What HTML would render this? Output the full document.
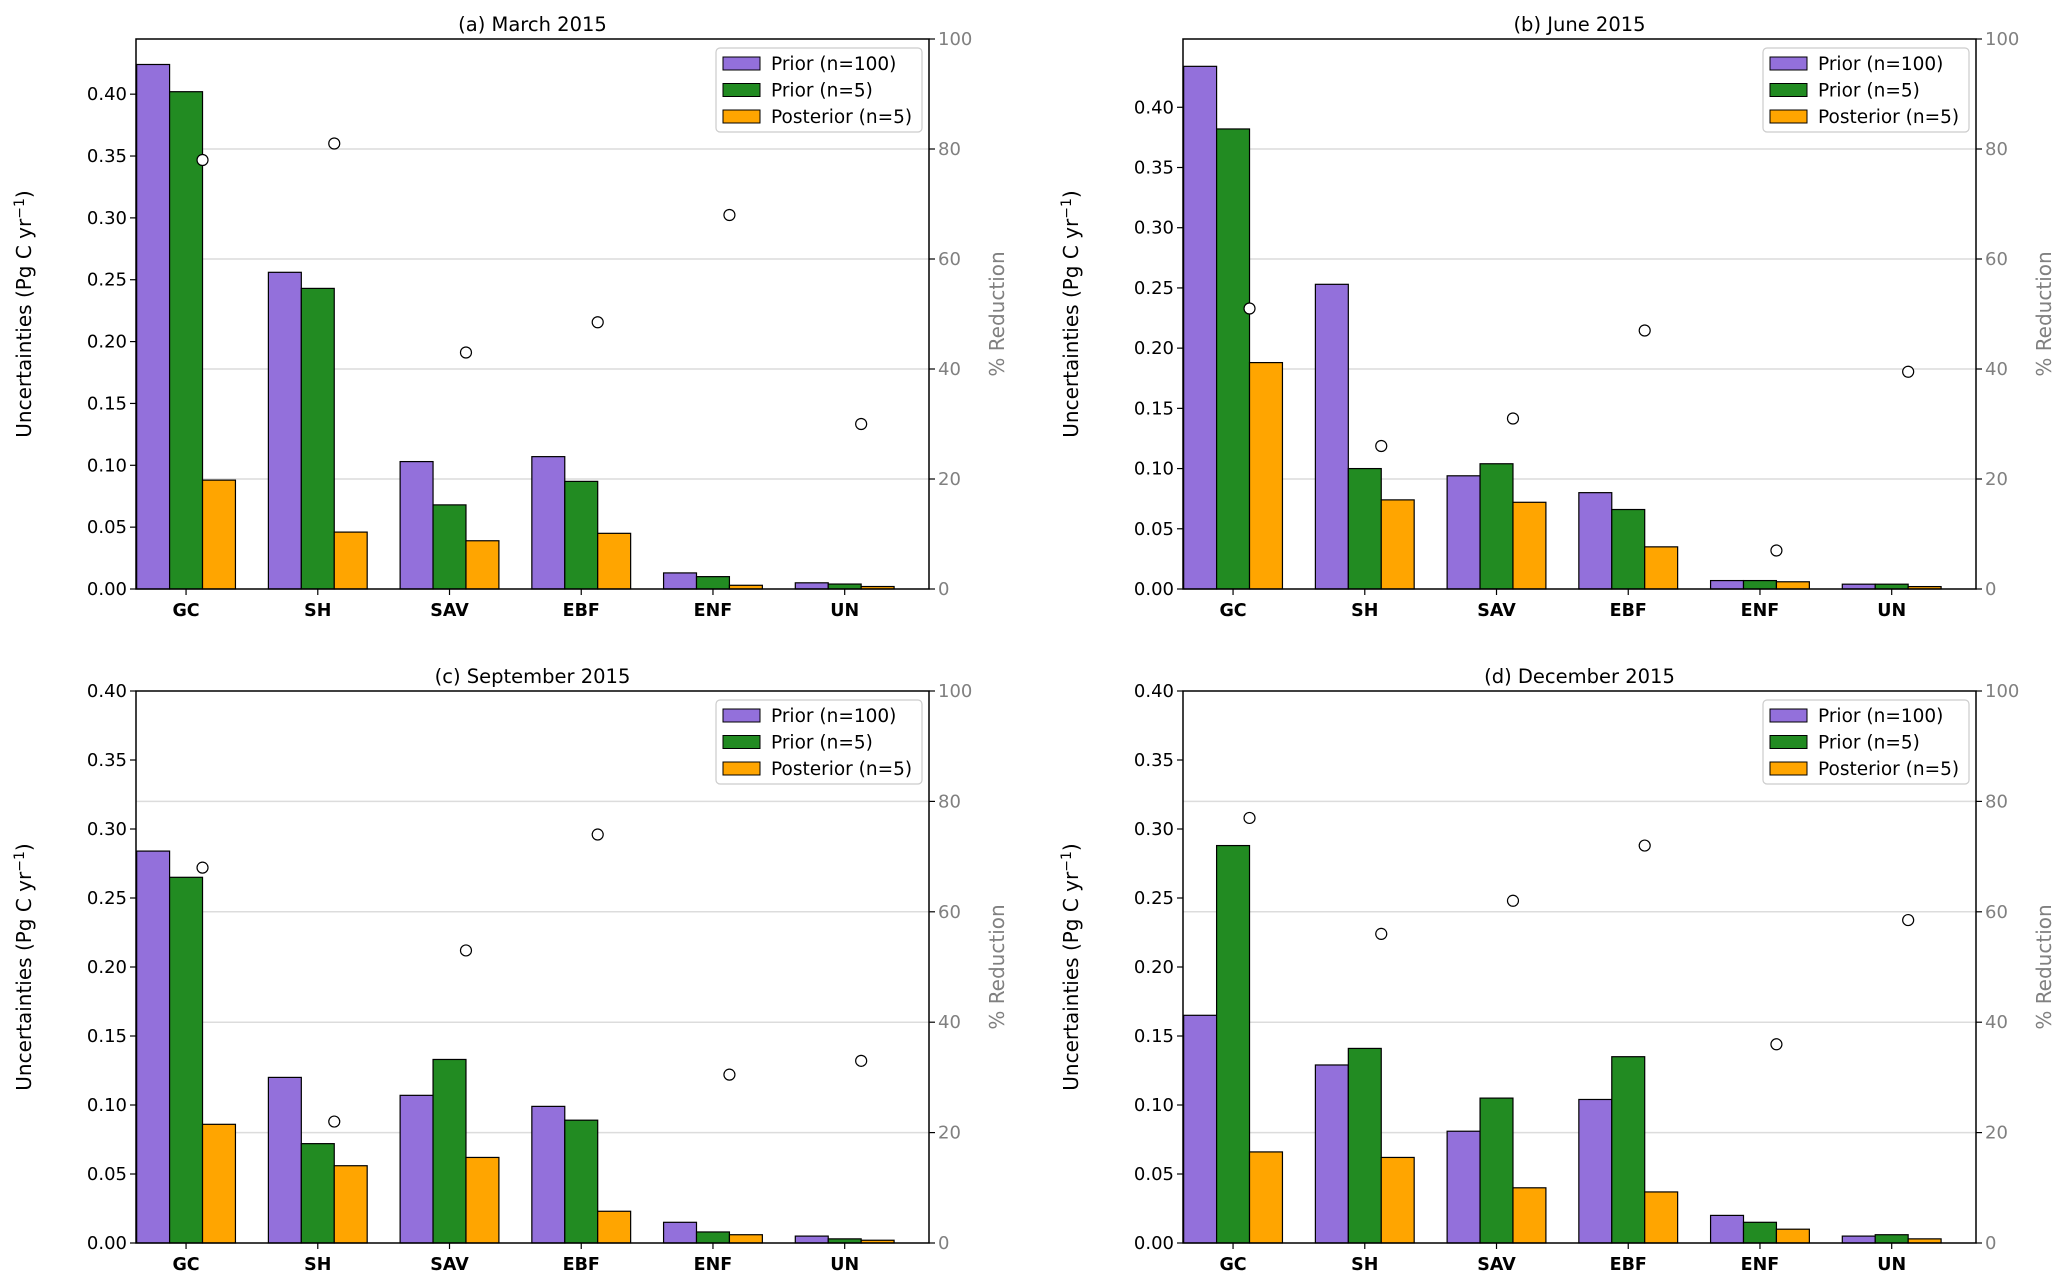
<!DOCTYPE html>
<html><head><meta charset="utf-8"><style>
html,body{margin:0;padding:0;background:#fff;}
svg{display:block;font-family:"DejaVu Sans","Liberation Sans",sans-serif;}
</style></head><body>
<svg id="chart" width="2067" height="1288" viewBox="0 0 2067 1288" xmlns="http://www.w3.org/2000/svg"></svg>
<script>
const categories = ["GC","SH","SAV","EBF","ENF","UN"];
const titles = ["(a) March 2015","(b) June 2015","(c) September 2015","(d) December 2015"];
const priorN100 = [
  [0.424,0.256,0.103,0.107,0.013,0.005],
  [0.434,0.253,0.094,0.080,0.007,0.004],
  [0.284,0.120,0.107,0.099,0.015,0.005],
  [0.165,0.129,0.081,0.104,0.020,0.005]
];
const priorN5 = [
  [0.402,0.243,0.068,0.087,0.010,0.004],
  [0.382,0.100,0.104,0.066,0.007,0.004],
  [0.265,0.072,0.133,0.089,0.008,0.003],
  [0.288,0.141,0.105,0.135,0.015,0.006]
];
const posteriorN5 = [
  [0.088,0.046,0.039,0.045,0.003,0.002],
  [0.188,0.074,0.072,0.035,0.006,0.002],
  [0.086,0.056,0.062,0.023,0.006,0.002],
  [0.066,0.062,0.040,0.037,0.010,0.003]
];
const pctReduction = [
  [78,81,43,48.5,68,30],
  [51,26,31,47,7,39.5],
  [68,22,53,74,30.5,33],
  [77,56,62,72,36,58.5]
];
const leftMax = [0.4446,0.4567,0.40,0.40];
const leftTicks = ["0.00","0.05","0.10","0.15","0.20","0.25","0.30","0.35","0.40"];
const rightTicks = [0,20,40,60,80,100];
const seriesNames = ["Prior (n=100)","Prior (n=5)","Posterior (n=5)"];
const seriesColors = ["#9370DB","#228B22","#FFA500"];

const NS = "http://www.w3.org/2000/svg";
const svg = document.getElementById("chart");
function mk(tag, attrs, parent, text){
  const e = document.createElementNS(NS, tag);
  for (const k in attrs) e.setAttribute(k, attrs[k]);
  if (text !== undefined) e.textContent = text;
  (parent||svg).appendChild(e);
  return e;
}
const panels = [
  {L:136,R:929,T:39,B:589},
  {L:1183,R:1976,T:39,B:589},
  {L:136,R:929,T:691,B:1243},
  {L:1183,R:1976,T:691,B:1243}
];
const xmin = -0.38, xmax = 5.64;
panels.forEach((p,pi)=>{
  const g = mk("g",{});
  
  
  const xs = v => p.L + (v - xmin)/(xmax - xmin)*(p.R - p.L);
  const yl = v => p.B - v/leftMax[pi]*(p.B - p.T);
  const yr = v => p.B - v/100*(p.B - p.T);
  rightTicks.forEach(t=>{
    if (t===0||t===100) return;
    const gl = mk("line",{x1:p.L,x2:p.R,y1:yr(t),y2:yr(t),stroke:"#dcdcdc","stroke-width":1.5},g);
    
    
  });
  const series = [priorN100[pi], priorN5[pi], posteriorN5[pi]];
  series.forEach((vals,si)=>{
    vals.forEach((v,ci)=>{
      const x0 = xs(ci - 0.375 + si*0.25), x1 = xs(ci - 0.125 + si*0.25);
      const r = mk("rect",{x:x0,y:yl(v),width:x1-x0,height:p.B-yl(v),fill:seriesColors[si],stroke:"#000","stroke-width":1.2},g);
      
      
    });
  });
  pctReduction[pi].forEach((v,ci)=>{
    const c = mk("circle",{cx:xs(ci+0.125),cy:yr(v),r:5.5,fill:"#fff",stroke:"#000","stroke-width":1.2},g);
    
    
  });
  const fr = mk("rect",{x:p.L,y:p.T,width:p.R-p.L,height:p.B-p.T,fill:"none",stroke:"#000","stroke-width":1.5},g);
  
  
  leftTicks.forEach(t=>{
    const y = yl(parseFloat(t));
    mk("line",{x1:p.L-6,x2:p.L,y1:y,y2:y,stroke:"#000","stroke-width":1.2},g);
    const tl = mk("text",{x:p.L-9,y:y+6,"text-anchor":"end","font-size":18,fill:"#000"},g,t);
    
    
  });
  rightTicks.forEach(t=>{
    const y = yr(t);
    mk("line",{x1:p.R,x2:p.R+6,y1:y,y2:y,stroke:"#000","stroke-width":1.2},g);
    const tl = mk("text",{x:p.R+9,y:y+6,"font-size":18,fill:"#808080"},g,String(t));
    
    
  });
  categories.forEach((c,ci)=>{
    const x = xs(ci);
    mk("line",{x1:x,x2:x,y1:p.B,y2:p.B+6,stroke:"#000","stroke-width":1.2},g);
    const tl = mk("text",{x:x,y:p.B+27,"text-anchor":"middle","font-size":17.5,"font-weight":"bold",fill:"#000"},g,c);
    
    
  });
  const tt = mk("text",{x:(p.L+p.R)/2,y:p.T-8,"text-anchor":"middle","font-size":19.5,fill:"#000"},g,titles[pi]);
  
  
  const ym = (p.T+p.B)/2;
  const ylab = mk("text",{x:0,y:0,transform:`translate(${p.L-105},${ym}) rotate(-90)`,"text-anchor":"middle","font-size":20,fill:"#000"},g);
  ylab.innerHTML = 'Uncertainties (Pg C yr<tspan dy="-7" font-size="14">−1</tspan><tspan dy="7">)</tspan>';
  
  
  const y2 = mk("text",{x:0,y:0,transform:`translate(${p.R+75},${ym}) rotate(-90)`,"text-anchor":"middle","font-size":20,fill:"#808080"},g,"% Reduction");
  
  
  const lg = mk("g",{},g);
  
  
  const lx = p.R-213, ly = p.T+9;
  mk("rect",{x:lx,y:ly,width:206,height:84,rx:4,fill:"#fff","fill-opacity":0.85,stroke:"#cccccc","stroke-width":1.2},lg);
  seriesNames.forEach((n,si)=>{
    const cy = ly+15+si*26.5;
    const pr = mk("rect",{x:lx+7,y:cy-6,width:37,height:13,fill:seriesColors[si],stroke:"#000","stroke-width":1},lg);
    
    
    const lt = mk("text",{x:lx+55,y:cy+7,"font-size":18.5,fill:"#000"},lg,n);
    
    
  });
});
</script>
</body></html>
